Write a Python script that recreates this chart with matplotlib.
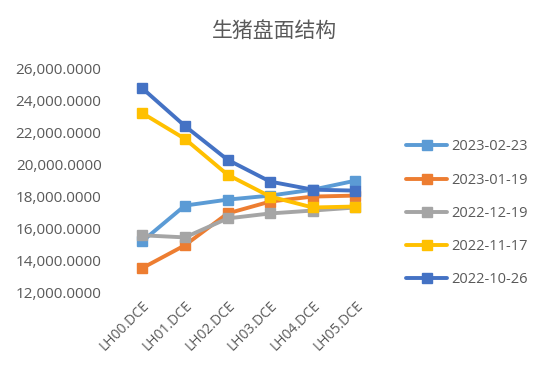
import numpy as np
import matplotlib.pyplot as plt

plt.rcParams['font.family'] = ['Open Sans', 'Noto Sans CJK SC', 'DejaVu Sans']

# contracts on the x axis
contracts = ['LH00.DCE', 'LH01.DCE', 'LH02.DCE', 'LH03.DCE', 'LH04.DCE', 'LH05.DCE']

# futures curve for each date
d20230223 = [15220, 17440, 17810, 18060, 18430, 18990]
d20230119 = [13550, 14970, 16950, 17690, 18000, 18060]
d20221219 = [15590, 15460, 16640, 16950, 17130, 17320]
d20221117 = [23190, 21590, 19360, 18000, 17320, 17380]
d20221026 = [24740, 22390, 20290, 18930, 18430, 18370]

labels = ['2023-02-23', '2023-01-19', '2022-12-19', '2022-11-17', '2022-10-26']
series = [d20230223, d20230119, d20221219, d20221117, d20221026]
colors = ['#5B9BD5', '#ED7D31', '#A5A5A5', '#FFC000', '#4472C4']

fig = plt.figure(figsize=(5.5, 3.81), dpi=100)
ax = fig.add_axes([0.22, 0.231, 0.465, 0.5905])

x = np.arange(len(contracts))
for vals, lab, c in zip(series, labels, colors):
    ax.plot(x, vals, color=c, lw=2.8, marker='s', markersize=7.5, label=lab,
            solid_capstyle='round')

ax.set_xlim(-0.5, len(contracts) - 0.5)
ax.set_ylim(12000, 26000)
ax.set_yticks(np.arange(12000, 26001, 2000))
ax.yaxis.set_major_formatter(plt.FuncFormatter(lambda v, p: f'{v:,.4f}'))
ax.set_xticks(x)
ax.set_xticklabels(contracts, rotation=45, ha='right', rotation_mode='anchor')

for s in ax.spines.values():
    s.set_visible(False)
ax.tick_params(length=0, colors='#595959', labelsize=10)
ax.tick_params(axis='y', pad=14, labelsize=11)
ax.tick_params(axis='x', pad=4)

fig.text(0.5, 0.92, '生猪盘面结构', ha='center', va='center', fontsize=15,
         color='#595959', family=['Noto Sans CJK SC', 'DejaVu Sans'])

fig.legend(loc='center left', bbox_to_anchor=(0.715, 0.44), frameon=False,
           fontsize=10.5, labelcolor='#595959', handlelength=2.8,
           labelspacing=1.25, handletextpad=0.3)

fig.savefig('out.png', dpi=100)
